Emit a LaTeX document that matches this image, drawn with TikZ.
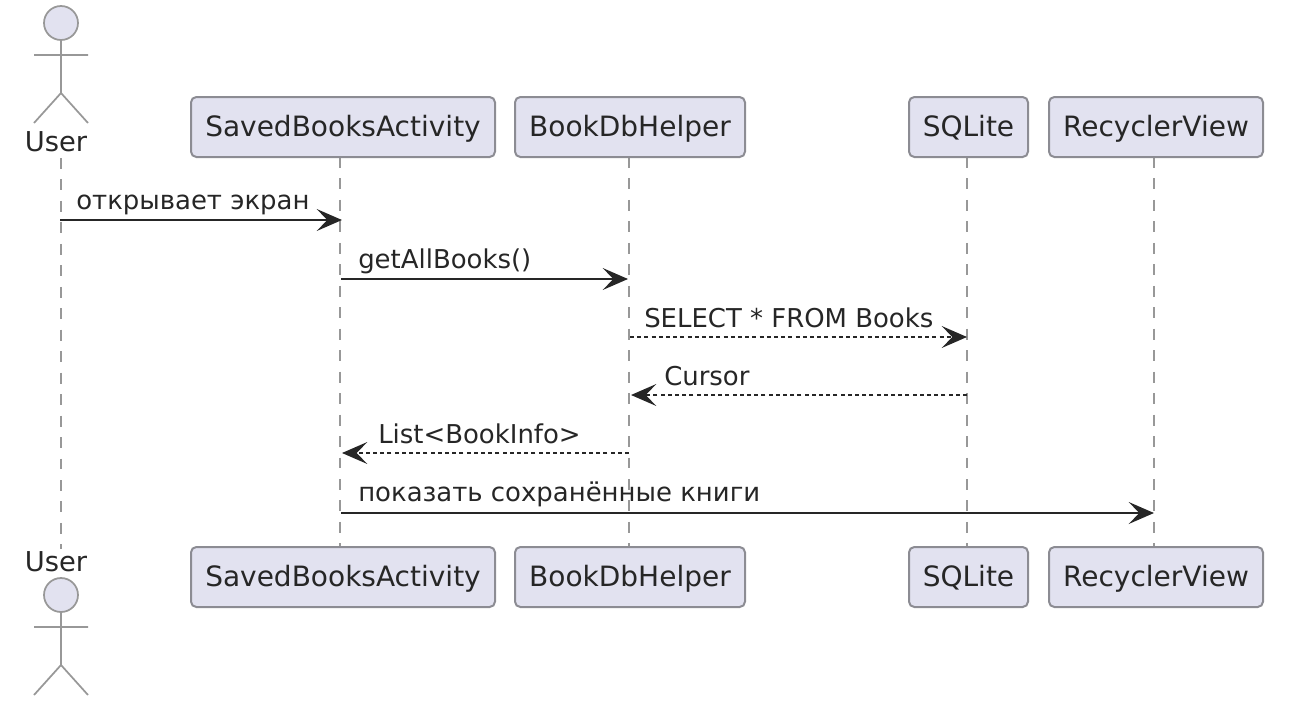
\documentclass[tikz,border=0pt]{standalone}
\usepackage{fontspec}
\setmainfont{DejaVu Sans}
\usetikzlibrary{arrows.meta}
\definecolor{boxfill}{HTML}{E2E2F0}
\definecolor{boxline}{HTML}{8C8C93}
\definecolor{lifeline}{HTML}{989898}
\definecolor{ink}{HTML}{262626}
\tikzset{
  x=0.75pt,y=-0.75pt,
  part/.style={draw=boxline,fill=boxfill,line width=1.5pt,rounded corners=4pt,minimum height=45pt,inner sep=0pt,text=ink,text height=17pt,text depth=3.5pt,font=\fontsize{21}{24}\selectfont},
  life/.style={draw=lifeline,line width=1.3pt,dash pattern=on 8.2pt off 7.9pt},
  stick/.style={draw=lifeline,line width=1.3pt},
  head/.style={draw=lifeline,fill=boxfill,line width=1.3pt},
  lbl/.style={text=ink,font=\fontsize{19.45}{24}\selectfont,inner sep=0pt,anchor=base west},
  actorname/.style={text=ink,font=\fontsize{20.5}{24}\selectfont,inner sep=0pt},
  msg/.style={draw=ink,line width=1.5pt,-{Stealth[length=19pt,width=16.5pt,inset=8pt]}},
  ret/.style={draw=ink,line width=1.2pt,dash pattern=on 3pt off 2.4pt,-{Stealth[length=19pt,width=16.5pt,inset=8pt]}},
}
\begin{document}
\begin{tikzpicture}
\useasboundingbox (0,0) rectangle (1304,722);
% lifeline anchors
\coordinate (lu) at (61,158);
\coordinate (lu2) at (61,549);
\coordinate (ls) at (340,157);
\coordinate (ls2) at (340,547);
\coordinate (ld) at (629,157);
\coordinate (ld2) at (629,547);
\coordinate (lq) at (967,157);
\coordinate (lq2) at (967,547);
\coordinate (lr) at (1154,157);
\coordinate (lr2) at (1154,547);
\draw[life] (lu) -- (lu2);
\draw[life] (ls) -- (ls2);
\draw[life] (ld) -- (ld2);
\draw[life] (lq) -- (lq2);
\draw[life] (lr) -- (lr2);
% participants
\node[part,minimum width=228pt] (sb) at (343,127) {SavedBooksActivity};
\node[part,minimum width=172.5pt] (db) at (630,127) {BookDbHelper};
\node[part,minimum width=89.25pt] (sq) at (968.5,127) {SQLite};
\node[part,minimum width=160.5pt] (rv) at (1156,127) {RecyclerView};
\node[part,minimum width=228pt] (sb2) at (343,577) {SavedBooksActivity};
\node[part,minimum width=172.5pt] (db2) at (630,577) {BookDbHelper};
\node[part,minimum width=89.25pt] (sq2) at (968.5,577) {SQLite};
\node[part,minimum width=160.5pt] (rv2) at (1156,577) {RecyclerView};
\node[actorname] (us) at (56,142) {User};
\node[actorname] (us2) at (56,562) {User};
% actors
\draw[stick] (61,40) -- (61,93) (34,55) -- (88,55) (34,123) -- (61,93) -- (88,123);
\draw[head] (61,23) circle[radius=17];
\draw[stick] (61,612) -- (61,665) (34,627) -- (88,627) (34,695) -- (61,665) -- (88,695);
\draw[head] (61,595) circle[radius=17];
% messages
\coordinate (m1a) at (60,220); \coordinate (m1b) at (342,220);
\coordinate (m2a) at (341,279); \coordinate (m2b) at (628,279);
\coordinate (m3a) at (630,337); \coordinate (m3b) at (967,337);
\coordinate (m4a) at (967,395); \coordinate (m4b) at (631,395);
\coordinate (m5a) at (629,453); \coordinate (m5b) at (342,453);
\coordinate (m6a) at (341,513); \coordinate (m6b) at (1154,513);
\draw[msg] (m1a) -- (m1b);
\draw[msg] (m2a) -- (m2b);
\draw[ret] (m3a) -- (m3b);
\draw[ret] (m4a) -- (m4b);
\draw[ret] (m5a) -- (m5b);
\draw[msg] (m6a) -- (m6b);
\node[lbl] (t1) at (76,209) {открывает экран};
\node[lbl] (t2) at (358,268) {getAllBooks()};
\node[lbl] (t3) at (644,327) {SELECT * FROM Books};
\node[lbl] (t4) at (664,385) {Cursor};
\node[lbl] (t5) at (378,443) {List<BookInfo>};
\node[lbl] (t6) at (358,501) {показать сохранённые книги};
\end{tikzpicture}
\end{document}
